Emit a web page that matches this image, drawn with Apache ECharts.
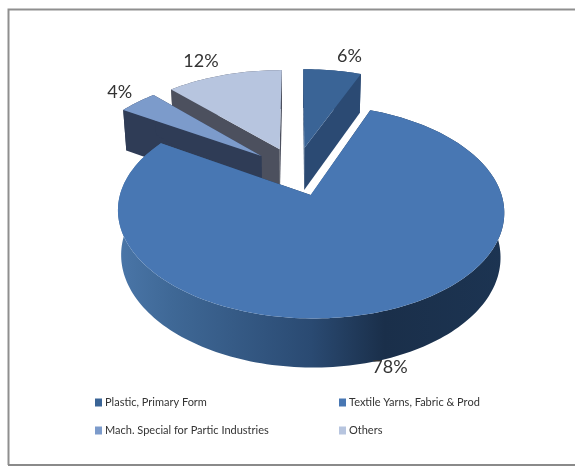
<!DOCTYPE html>
<html>
<head>
<meta charset="utf-8">
<style>html,body{margin:0;padding:0;background:#fff}#c{width:575px;height:467px}</style>
<script src="https://cdn.jsdelivr.net/npm/echarts@6/dist/echarts.min.js"></script>
</head>
<body>
<div id="c"></div>
<script>
const categories = ['Plastic, Primary Form', 'Textile Yarns, Fabric & Prod', 'Mach. Special for Partic Industries', 'Others'];
const shares = [6, 78, 4, 12];
const shareLabels = ['6%', '78%', '4%', '12%'];
const topColors = ['#3a6496', '#4877b3', '#7c9bcb', '#b7c5df'];
const wallColors = ['#2b4a73', null, '#2f3c56', '#4c505e'];
const zBySlice = [1, 4, 3, 2];
const labelNudge = [[17, -14], [9, 7], [-18, -10], [-23, -14]];

const EXPLODE = 0.25, PERSP = 0.15;
const planes = [
  { cx: 296, cy: 171, a: 184, b: 97 },
  { cx: 296, cy: 214, a: 180.7, b: 101 }
];
function project(u, v, z) {
  const p = planes[z], d = 1 + PERSP * v;
  return [p.cx + p.a * u / d, p.cy - p.b * v / d];
}
const total = shares.reduce(function (s, v) { return s + v; }, 0);
function arcs() {
  let acc = 0;
  return shares.map(function (v) {
    const s = acc / total * 2 * Math.PI;
    acc += v;
    return [s, acc / total * 2 * Math.PI];
  });
}
const sliceAngles = arcs();

function renderSlice(params, api) {
  const i = params.seriesIndex;
  const a = sliceAngles[i];
  const mid = (a[0] + a[1]) / 2;
  const ou = EXPLODE * Math.sin(mid), ov = EXPLODE * Math.cos(mid);
  const apex = function (z) { return project(ou, ov, z); };
  const rim = function (t, z) { return project(ou + Math.sin(t), ov + Math.cos(t), z); };
  const n = Math.max(4, Math.round((a[1] - a[0]) * 40));
  const top = [], bottom = [];
  for (let k = 0; k <= n; k++) {
    const t = a[0] + (a[1] - a[0]) * k / n;
    top.push(rim(t, 0));
    bottom.push(rim(t, 1));
  }
  const wallFill = wallColors[i] || new echarts.graphic.LinearGradient(0, 0, 1, 0, [
    { offset: 0, color: '#4a76a8' },
    { offset: 0.14, color: '#3f6896' },
    { offset: 0.5, color: '#2a4a72' },
    { offset: 0.69, color: '#1a2f4a' },
    { offset: 1, color: '#1c3452' }
  ]);
  const children = [];
  children.push({ type: 'polygon', shape: { points: top.concat(bottom.slice().reverse()) }, style: { fill: wallFill } });
  children.push({ type: 'polygon', shape: { points: [apex(0), rim(a[0], 0), rim(a[0], 1), apex(1)] }, style: { fill: wallFill } });
  children.push({ type: 'polygon', shape: { points: [apex(0), rim(a[1], 0), rim(a[1], 1), apex(1)] }, style: { fill: wallFill } });
  children.push({ type: 'polygon', shape: { points: [apex(0)].concat(top) }, style: { fill: topColors[i] } });
  const lz = Math.cos(mid) < 0 ? 1 : 0;
  const lp = rim(mid, lz);
  children.push({
    type: 'text', z2: 50,
    style: {
      x: lp[0] + labelNudge[i][0], y: lp[1] + labelNudge[i][1],
      text: shareLabels[i], fill: '#333', fontSize: 18, fontFamily: 'Lato',
      align: 'center', verticalAlign: 'middle'
    }
  });
  return { type: 'group', children: children };
}

const series = categories.map(function (name, i) {
  return {
    type: 'custom', name: name, coordinateSystem: 'none', z: zBySlice[i] + 2,
    data: [[shares[i]]], renderItem: renderSlice,
    itemStyle: { color: topColors[i] }, silent: true, animation: false
  };
});

function legendCol(left, names) {
  return {
    left: left, top: 397, orient: 'vertical', icon: 'rect', itemWidth: 7, itemHeight: 8,
    itemGap: 17, data: names, selectedMode: false, padding: 0,
    textStyle: { fontFamily: 'Lato', fontSize: 11, color: '#333', padding: [0, 0, 0, -2] }
  };
}

const chart = echarts.init(document.getElementById('c'), null, { renderer: 'canvas' });
chart.setOption({
  animation: false,
  backgroundColor: '#fff',
  legend: [legendCol(95, [categories[0], categories[2]]), legendCol(339, [categories[1], categories[3]])],
  graphic: [
    { type: 'polyline', z: 100, shape: { points: [[8.5, 465], [8.5, 9.5], [580, 9.5]] }, style: { stroke: '#8f8f8f', lineWidth: 2, fill: null } },
    { type: 'line', z: 100, shape: { x1: 8, y1: 465, x2: 580, y2: 465 }, style: { stroke: '#8a8a8a', lineWidth: 2 } }
  ],
  series: series
});
</script>
</body>
</html>
